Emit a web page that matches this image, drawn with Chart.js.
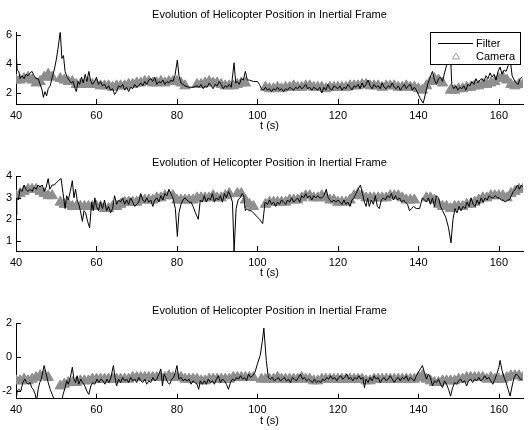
<!DOCTYPE html>
<html>
<head>
<meta charset="utf-8">
<script src="https://cdn.jsdelivr.net/npm/chart.js@4"></script>
<style>
html, body { margin: 0; padding: 0; background: #fff; }
#wrap { position: relative; width: 530px; height: 430px; overflow: hidden; }
.panel { position: absolute; left: 0; width: 530px; height: 136px; }
</style>
</head>
<body>
<div id="wrap">
  <div class="panel" style="top:0px"><canvas id="c1"></canvas></div>
  <div class="panel" style="top:147px"><canvas id="c2"></canvas></div>
  <div class="panel" style="top:294px"><canvas id="c3"></canvas></div>
</div>
<script>
const chartTitle = 'Evolution of Helicopter Position in Inertial Frame';
const xLabel = 't (s)';
const xTicks = [40, 60, 80, 100, 120, 140, 160];

// camera samples, one per second (null = no measurement)
const camT = [40, 41, 42, 43, 44, 45, 46, 47, 48, 49,
  50, 51, 52, 53, 54, 55, 56, 57, 58, 59,
  60, 61, 62, 63, 64, 65, 66, 67, 68, 69,
  70, 71, 72, 73, 74, 75, 76, 77, 78, 79,
  80, 81, 82, 83, 84, 85, 86, 87, 88, 89,
  90, 91, 92, 93, 94, 95, 96, 97, 98, 99,
  100, 101, 102, 103, 104, 105, 106, 107, 108, 109,
  110, 111, 112, 113, 114, 115, 116, 117, 118, 119,
  120, 121, 122, 123, 124, 125, 126, 127, 128, 129,
  130, 131, 132, 133, 134, 135, 136, 137, 138, 139,
  140, 141, 142, 143, 144, 145, 146, 147, 148, 149,
  150, 151, 152, 153, 154, 155, 156, 157, 158, 159,
  160, 161, 162, 163, 164, 165, 166];

const camY1 = [2.9, 2.9, 3.0, 3.1, 2.9, 2.7, 2.8, 3.1, 3.3, 3.1,
  null, 3.0, 2.9, 2.8, 2.8, 2.6, 2.6, 2.6, 2.7, 2.6,
  2.6, 2.5, 2.5, 2.5, 2.4, 2.5, 2.5, 2.5, 2.6, 2.6,
  2.7, 2.7, 2.8, 2.8, 2.7, 2.7, 2.8, 2.7, 2.8, 2.8,
  2.8, 2.7, 2.5, null, null, 2.6, 2.6, 2.7, 2.8, 2.7,
  2.7, 2.6, 2.5, 2.5, 2.5, 2.6, 2.7, 2.7, null, null,
  null, null, 2.4, 2.3, 2.3, 2.4, 2.3, 2.4, 2.4, 2.5,
  2.4, 2.4, 2.5, 2.5, 2.4, 2.4, 2.4, 2.3, 2.4, 2.4,
  2.4, 2.4, 2.4, 2.5, 2.5, 2.5, 2.6, 2.6, 2.5, 2.5,
  2.5, 2.4, 2.5, 2.5, 2.5, 2.4, 2.4, 2.5, 2.4, 2.4,
  2.3, 2.2, 2.5, 2.8, 3.0, 2.9, 2.7, null, 2.2, 2.2,
  2.3, 2.3, 2.4, 2.4, 2.5, 2.5, 2.6, 2.6, 2.7, 2.8,
  3.0, 3.1, 2.9, 2.6, 2.5, 2.6, 2.6];

const camY2 = [3.1, 3.2, 3.3, 3.4, 3.4, 3.4, 3.3, 3.2, 3.1, 3.1,
  null, 2.8, 2.7, 2.7, 2.6, 2.6, 2.6, 2.6, 2.6, 2.6,
  2.6, 2.6, 2.5, 2.5, 2.6, 2.6, 2.7, 2.8, 2.8, 2.8,
  2.8, 2.9, 2.9, 2.9, 2.9, 3.0, 3.0, 3.1, 3.1, 3.1,
  2.9, 2.9, 2.9, 2.9, 2.9, 3.0, 3.0, 3.0, 3.0, 3.1,
  3.0, 3.0, 3.1, 3.2, null, 3.2, 3.2, 2.9, 2.7, 2.6,
  null, null, 2.7, 2.8, 2.8, 2.8, 2.8, 2.8, 2.9, 2.9,
  2.9, 3.0, 3.1, 3.1, 3.0, 3.0, 3.1, 3.0, 2.9, 2.9,
  2.8, 2.8, 2.8, 2.9, 3.1, 3.2, 3.1, 3.0, 3.0, 3.0,
  3.0, 3.0, 3.0, 3.1, 3.1, 3.1, 3.0, 2.9, 2.9, 2.9,
  null, null, 3.0, 3.0, 2.9, 2.7, 2.6, 2.6, 2.5, 2.6,
  2.6, 2.6, 2.7, 2.7, 2.8, 2.9, 3.0, 3.0, 3.1, 3.1,
  3.1, 3.1, 3.0, 3.2, 3.3, 3.4, 3.4];

const camY3 = [-1.4, -1.4, -1.3, -1.4, -1.3, -1.2, -1.1, -1.1, -1.2, null,
  null, -1.7, -1.6, -1.5, -1.5, -1.5, -1.4, -1.4, -1.4, -1.3,
  -1.3, -1.3, -1.3, -1.3, -1.3, -1.3, -1.3, -1.3, -1.3, -1.2,
  -1.2, -1.2, -1.2, -1.2, -1.2, -1.2, -1.2, -1.2, -1.1, -1.2,
  -1.2, -1.2, -1.3, -1.3, -1.3, -1.3, -1.4, -1.4, -1.3, -1.3,
  -1.3, -1.3, -1.3, -1.3, -1.2, -1.2, -1.2, -1.2, -1.2, -1.2,
  null, -1.3, -1.3, -1.3, -1.3, -1.2, -1.3, -1.3, -1.3, -1.3,
  -1.3, -1.2, -1.3, -1.3, -1.4, -1.4, -1.3, -1.3, -1.3, -1.3,
  -1.3, -1.3, -1.3, -1.3, -1.3, -1.3, -1.3, -1.4, -1.4, -1.3,
  -1.3, -1.3, -1.3, -1.3, -1.3, -1.3, -1.3, -1.3, -1.3, -1.3,
  -1.2, -1.1, -1.3, -1.4, -1.5, -1.5, -1.4, -1.4, -1.4, -1.4,
  -1.3, -1.3, -1.2, -1.2, -1.2, -1.2, -1.2, -1.3, -1.2, -1.3,
  -1.3, -1.3, -1.2, -1.1, -1.1, -1.1, -1.2];

// filter estimate, [t, value]
const filter1 = [[40, 5.0], [40.3, 3.6], [40.7, 3.5], [41, 3.0], [41.5, 3.2], [42, 3.0], [42.5, 3.3], [43, 3.2], [43.5, 3.4], [44, 3.5],
  [44.5, 3.2], [45, 3.0], [45.5, 3.0], [46, 2.6], [46.5, 2.2], [46.8, 1.7], [47.2, 2.1], [47.6, 1.8], [48, 2.3], [48.5, 2.5],
  [49, 3.1], [49.5, 3.6], [50, 4.3], [50.5, 5.2], [51, 6.3], [51.4, 4.4], [51.8, 4.6], [52.2, 3.5], [52.7, 3.1], [53.2, 2.9],
  [53.7, 2.7], [54.2, 2.8], [54.7, 2.3], [55, 2.1], [55.4, 2.8], [55.8, 2.6], [56.3, 3.1], [56.7, 2.7], [57.2, 3.3], [57.6, 2.8],
  [58.1, 3.5], [58.5, 2.9], [59, 2.6], [59.5, 2.8], [60, 3.1], [60.5, 2.6], [61, 2.8], [61.5, 2.5], [62, 2.6], [62.5, 2.3],
  [63, 2.5], [63.5, 2.2], [64, 2.3], [64.5, 1.9], [65, 2.1], [65.5, 2.5], [66, 2.4], [66.5, 2.6], [67, 2.2], [67.5, 2.4],
  [68, 2.1], [68.5, 2.4], [69, 2.3], [69.5, 2.6], [70, 2.4], [70.5, 2.5], [71, 2.7], [71.5, 2.5], [72, 2.8], [72.5, 2.6],
  [73, 2.9], [73.5, 3.0], [74, 2.8], [74.5, 3.1], [75, 2.6], [75.5, 2.8], [76, 2.7], [76.5, 2.9], [77, 2.6], [77.5, 2.8],
  [78, 2.7], [78.5, 2.9], [79, 2.8], [79.5, 3.2], [80.1, 4.3], [80.5, 3.2], [81, 2.7], [81.5, 2.6], [82, 2.5], [83, 2.4],
  [84, 2.4], [85, 2.5], [85.5, 2.4], [86, 2.6], [86.5, 2.3], [87, 2.5], [87.5, 2.4], [88, 2.7], [88.5, 2.5], [89, 2.3],
  [89.5, 2.6], [90, 2.5], [90.5, 2.8], [91, 2.6], [91.5, 2.3], [92, 2.5], [92.5, 2.4], [93, 2.6], [93.5, 2.4], [94.2, 4.1],
  [94.6, 2.7], [95, 2.8], [95.5, 2.6], [96, 3.0], [96.5, 2.9], [97, 3.5], [97.5, 2.9], [98, 2.9], [99, 2.8], [100, 2.8],
  [100.5, 2.6], [101, 2.3], [101.5, 2.2], [102, 2.4], [102.5, 2.2], [103, 2.3], [103.5, 2.1], [104, 2.3], [104.5, 2.2], [105, 2.4],
  [105.5, 2.2], [106, 2.3], [106.5, 2.1], [107, 2.3], [107.5, 2.2], [108, 2.4], [108.5, 2.3], [109, 2.2], [109.5, 2.4], [110, 2.3],
  [110.5, 2.5], [111, 2.3], [111.5, 2.4], [112, 2.6], [112.5, 2.3], [113, 2.4], [113.5, 2.2], [114, 2.4], [114.5, 2.3], [115, 2.2],
  [115.5, 2.4], [116, 2.0], [116.5, 2.4], [117, 2.2], [117.5, 2.6], [118, 2.3], [118.5, 2.2], [119, 2.5], [119.5, 2.4], [120, 2.3],
  [120.5, 2.5], [121, 2.2], [121.5, 2.4], [122, 2.3], [122.5, 2.6], [123, 2.4], [123.5, 2.2], [124, 2.5], [124.5, 2.4], [125, 2.6],
  [125.5, 2.3], [126, 2.7], [126.5, 2.4], [127, 2.6], [127.5, 2.9], [128, 2.5], [128.5, 2.3], [129, 2.6], [129.5, 2.4], [130, 2.5],
  [130.5, 2.3], [131, 2.7], [131.5, 2.4], [132, 2.3], [132.5, 2.5], [133, 2.4], [133.5, 2.7], [134, 2.4], [134.5, 2.3], [135, 2.5],
  [135.5, 2.2], [136, 2.4], [136.5, 2.6], [137, 2.3], [137.5, 2.5], [138, 2.6], [138.5, 2.2], [139, 2.4], [139.5, 2.2], [140, 1.9],
  [140.5, 1.6], [141.2, 1.3], [141.8, 2.0], [142.3, 2.6], [142.8, 3.0], [143.5, 3.5], [144, 2.9], [144.5, 2.6], [145, 3.0], [145.5, 3.1],
  [146, 2.8], [146.5, 3.4], [147, 3.9], [147.5, 4.6], [147.9, 5.2], [148.3, 2.6], [148.8, 2.3], [149.3, 2.5], [149.8, 2.2], [150.3, 2.4],
  [150.8, 2.3], [151.3, 2.5], [151.8, 2.2], [152.3, 2.6], [152.8, 2.5], [153.3, 2.8], [153.8, 2.6], [154.3, 3.0], [154.8, 2.7], [155.3, 2.9],
  [155.8, 3.0], [156.3, 2.8], [156.8, 3.2], [157.3, 3.0], [157.8, 3.4], [158.3, 3.1], [158.8, 3.3], [159.3, 2.9], [159.8, 3.5], [160.3, 3.8],
  [160.8, 3.3], [161.3, 3.6], [161.8, 3.5], [162.3, 3.9], [162.8, 4.4], [163.3, 3.2], [163.8, 2.9], [164.3, 2.7], [164.8, 2.6], [165.3, 3.0],
  [165.8, 3.1]];

const filter2 = [[40, 2.2], [40.2, 3.0], [40.6, 2.9], [41, 3.4], [41.5, 3.3], [42, 3.6], [42.5, 3.4], [43, 3.3], [43.5, 3.4], [44, 3.3],
  [44.5, 3.5], [45, 3.4], [45.5, 3.6], [46, 3.5], [46.5, 3.6], [47, 3.3], [47.5, 3.5], [48, 3.9], [48.4, 3.4], [49, 3.6],
  [49.5, 3.6], [50, 3.7], [50.5, 3.8], [51.2, 3.9], [51.7, 3.2], [52.2, 2.5], [52.6, 3.1], [53, 2.9], [53.5, 3.3], [54, 3.8],
  [54.4, 3.0], [54.8, 3.4], [55.2, 2.9], [55.6, 2.7], [56, 2.4], [56.5, 1.9], [56.9, 2.4], [57.3, 2.3], [57.8, 1.9], [58.3, 1.6],
  [58.8, 2.8], [59.2, 2.4], [59.6, 3.0], [60, 2.6], [60.5, 2.4], [61, 2.8], [61.5, 2.5], [62, 2.9], [62.5, 2.4], [63, 2.6],
  [63.5, 2.3], [64, 2.5], [64.5, 3.1], [65, 2.7], [65.5, 2.9], [66, 2.8], [66.5, 3.0], [67, 2.7], [67.5, 2.9], [68, 2.7],
  [68.5, 3.0], [69, 2.8], [69.5, 2.6], [70, 2.7], [70.5, 2.8], [71, 3.2], [71.5, 2.9], [72, 2.8], [72.5, 3.0], [73, 2.8],
  [73.5, 2.9], [74, 2.6], [74.5, 2.9], [75, 3.0], [75.5, 2.8], [76, 3.1], [76.5, 2.9], [77, 3.2], [77.5, 3.1], [78, 3.4],
  [78.5, 3.2], [79, 3.0], [79.6, 2.5], [80.1, 1.2], [80.5, 2.3], [81, 2.7], [81.5, 2.9], [82, 3.0], [82.5, 2.9], [83, 2.8],
  [83.5, 2.8], [84, 2.6], [84.6, 2.3], [85.3, 2.0], [85.8, 2.9], [86.3, 2.8], [86.8, 3.1], [87.3, 2.8], [87.8, 3.0], [88.3, 2.9],
  [88.8, 3.2], [89.3, 2.8], [89.8, 3.0], [90.3, 2.9], [90.8, 3.1], [91.3, 2.8], [91.8, 3.2], [92.3, 3.0], [92.8, 3.3], [93.3, 3.1],
  [93.8, 2.8], [94.2, 0.5], [94.7, 2.5], [95.2, 2.9], [95.7, 3.0], [96.2, 3.2], [96.6, 3.1], [97, 2.4], [97.4, 2.5], [97.9, 2.4],
  [98.5, 2.4], [99.5, 2.2], [100.5, 2.0], [101.3, 1.8], [101.9, 2.8], [102.5, 2.7], [103, 2.9], [103.5, 2.7], [104, 2.8], [104.5, 2.6],
  [105, 2.8], [105.5, 2.7], [106, 2.9], [106.5, 2.8], [107, 2.7], [107.5, 2.9], [108, 2.8], [108.5, 3.0], [109, 2.8], [109.5, 2.9],
  [110, 3.0], [110.5, 2.8], [111, 3.1], [111.5, 3.0], [112, 3.2], [112.5, 3.0], [113, 3.1], [113.5, 2.9], [114, 3.1], [114.5, 3.0],
  [115, 3.1], [115.5, 3.0], [116, 3.0], [116.5, 3.1], [117.1, 3.4], [117.6, 3.0], [118, 2.9], [118.5, 2.8], [119, 2.9], [119.5, 2.8],
  [120, 2.9], [120.5, 2.8], [121, 2.7], [121.5, 2.9], [122, 2.7], [122.5, 2.8], [123, 2.6], [123.5, 2.9], [124, 3.0], [124.5, 3.2],
  [125, 3.4], [125.6, 3.6], [126.1, 3.2], [126.6, 2.8], [127, 2.6], [127.4, 3.0], [127.8, 2.6], [128.3, 2.9], [128.8, 2.7], [129.3, 3.1],
  [129.8, 2.6], [130.3, 2.5], [130.8, 2.9], [131.3, 3.0], [131.8, 2.9], [132.3, 3.1], [132.8, 3.0], [133.3, 3.2], [133.8, 2.9], [134.3, 3.1],
  [134.8, 2.9], [135.3, 3.0], [135.8, 2.8], [136.3, 2.9], [136.8, 2.8], [137.3, 2.7], [137.8, 2.4], [138.3, 2.5], [138.8, 2.6], [139.5, 2.5],
  [140.3, 2.5], [141, 3.0], [141.5, 2.9], [142, 2.8], [142.5, 3.0], [143, 2.7], [143.5, 3.0], [144, 2.6], [144.5, 3.1], [145, 3.0],
  [145.5, 2.6], [146, 2.4], [146.8, 2.1], [147.5, 1.6], [148.1, 0.9], [148.6, 2.0], [149.1, 2.5], [149.6, 2.3], [150.1, 2.6], [150.6, 2.4],
  [151.1, 2.6], [151.6, 2.5], [152.1, 2.8], [152.6, 2.6], [153.1, 3.0], [153.6, 2.7], [154.1, 2.6], [154.6, 2.9], [155.1, 2.7], [155.6, 3.0],
  [156.1, 2.8], [156.6, 3.0], [157.1, 2.9], [157.6, 3.1], [158.1, 3.0], [158.6, 3.0], [159.1, 3.1], [159.6, 3.0], [160.1, 3.0], [160.6, 2.9],
  [161.1, 2.9], [161.6, 2.8], [162.1, 2.9], [162.6, 2.9], [163.1, 3.1], [163.6, 3.3], [164.1, 3.4], [164.6, 3.6], [165.1, 3.4], [165.6, 3.6],
  [165.9, 3.5]];

const filter3 = [[40, -2.6], [40.3, -2.0], [40.7, -1.9], [41.2, -2.0], [41.7, -1.5], [42.2, -1.3], [42.6, -1.5], [43, -1.6], [43.5, -1.5], [43.9, -1.8],
  [44.3, -1.9], [44.8, -2.2], [45.1, -2.6], [45.5, -1.9], [45.9, -1.5], [46.3, -1.3], [46.7, -0.8], [47, -0.5], [47.5, -1.0], [48, -1.5],
  [48.5, -1.9], [49, -2.2], [49.6, -2.6], [50.5, -3.2], [51.2, -2.8], [51.7, -2.2], [52.2, -1.8], [52.6, -1.4], [53, -1.6], [53.5, -1.2],
  [54, -0.6], [54.4, -1.3], [54.8, -1.5], [55.2, -1.1], [55.6, -1.6], [56.1, -1.3], [56.6, -1.5], [57.1, -1.7], [57.6, -2.0], [58.1, -2.2],
  [58.6, -1.7], [59.1, -1.5], [59.6, -1.6], [60.1, -1.3], [60.6, -1.5], [61.1, -1.3], [61.6, -1.4], [62.1, -1.6], [62.6, -1.3], [63.1, -1.5],
  [63.6, -1.2], [64.2, -0.5], [64.6, -1.2], [65, -1.7], [65.5, -1.3], [66, -1.5], [66.5, -1.2], [67, -1.4], [67.5, -1.3], [68, -1.5],
  [68.5, -1.2], [69, -1.4], [69.5, -1.3], [70, -1.5], [70.5, -1.2], [71, -1.4], [71.5, -1.5], [72, -1.3], [72.5, -1.6], [73, -1.4],
  [73.5, -1.5], [74, -1.2], [74.5, -1.4], [75, -1.3], [75.5, -1.0], [76, -0.7], [76.4, -1.7], [76.8, -1.0], [77.2, -1.2], [77.7, -1.5],
  [78.2, -1.6], [78.7, -1.3], [79.2, -1.2], [79.6, -0.9], [80, -0.5], [80.5, -1.3], [81, -1.2], [81.5, -1.4], [82, -1.3], [82.5, -1.4],
  [83, -1.3], [83.5, -1.6], [84, -1.4], [84.5, -1.5], [85, -1.6], [85.4, -1.9], [85.8, -1.4], [86.3, -1.6], [86.8, -1.4], [87.3, -1.6],
  [87.8, -1.3], [88.3, -1.5], [88.8, -1.4], [89.3, -1.6], [89.8, -1.3], [90.3, -1.1], [90.8, -1.5], [91.3, -1.3], [91.8, -1.4], [92.3, -1.6],
  [92.8, -1.9], [93.3, -1.5], [93.8, -1.3], [94.3, -1.4], [94.8, -1.2], [95.3, -1.3], [95.8, -1.1], [96.3, -1.3], [96.8, -1.2], [97.3, -1.4],
  [97.8, -1.0], [98.3, -1.2], [98.8, -1.1], [99.4, -0.9], [100, -0.4], [100.7, 0.1], [101.2, 0.9], [101.6, 1.7], [102.2, -0.2], [102.7, -1.2],
  [103.2, -1.3], [103.7, -1.2], [104.2, -1.4], [104.7, -1.3], [105.2, -1.2], [105.7, -1.4], [106.2, -1.3], [106.7, -1.2], [107.2, -1.4], [107.7, -1.3],
  [108.2, -1.5], [108.7, -1.2], [109.2, -1.3], [109.7, -1.4], [110.2, -1.2], [110.7, -1.0], [111.2, -1.3], [111.7, -1.2], [112.2, -1.4], [112.7, -1.3],
  [113.2, -1.4], [113.7, -1.5], [114.2, -1.3], [114.7, -1.5], [115.2, -1.4], [115.7, -1.5], [116.2, -1.3], [116.7, -1.4], [117.2, -1.2], [117.7, -1.3],
  [118.2, -1.1], [118.7, -1.3], [119.2, -1.2], [119.7, -1.4], [120.2, -1.2], [120.7, -1.1], [121.2, -1.3], [121.7, -1.2], [122.2, -1.0], [122.7, -1.3],
  [123.2, -1.2], [123.7, -1.4], [124.2, -1.2], [124.7, -1.3], [125.2, -1.1], [125.7, -1.3], [126.2, -1.2], [126.6, -1.8], [127, -1.3], [127.5, -1.5],
  [128, -1.2], [128.5, -1.4], [129, -1.1], [129.5, -1.3], [130, -1.2], [130.5, -1.5], [131, -1.3], [131.5, -1.2], [132, -1.4], [132.5, -1.3],
  [133, -1.1], [133.5, -1.3], [134, -1.5], [134.5, -1.3], [135, -1.2], [135.5, -1.4], [136, -1.2], [136.5, -1.3], [137, -1.1], [137.5, -1.4],
  [138, -1.2], [138.5, -1.3], [139, -1.4], [139.5, -1.1], [140, -0.9], [140.5, -0.7], [141, -0.5], [141.5, -0.9], [142, -1.3], [142.5, -1.0],
  [143, -1.2], [143.5, -1.7], [144, -1.4], [144.5, -1.5], [145, -1.3], [145.5, -1.6], [146, -1.8], [146.5, -1.4], [147, -1.6], [147.5, -1.9],
  [148, -2.3], [148.5, -1.8], [149, -1.5], [149.5, -1.6], [150, -1.4], [150.5, -1.3], [151, -1.5], [151.5, -1.4], [152, -1.7], [152.5, -1.4],
  [153, -1.3], [153.5, -1.5], [154, -1.3], [154.5, -1.4], [155, -1.2], [155.5, -1.4], [156, -1.3], [156.5, -1.1], [157, -1.3], [157.5, -1.2],
  [158, -1.4], [158.5, -1.6], [159, -1.3], [159.5, -1.0], [160, -0.6], [160.3, -0.2], [160.8, -0.8], [161.3, -1.2], [161.8, -1.5], [162.3, -1.9],
  [162.8, -2.3], [163.3, -1.7], [163.8, -1.2], [164.3, -1.0], [164.8, -1.1], [165.3, -1.3], [165.8, -1.3]];

const yTicks1 = [2, 4, 6];
const yTicks2 = [1, 2, 3, 4];
const yTicks3 = [-2, 0, 2];

const FONT = { family: '"Liberation Sans", Arial, Helvetica, sans-serif', size: 11 };
const CAM_GRAY = '#8e8e8e';

// MATLAB style tick marks pointing into the plot
const inwardTicks = {
  id: 'inwardTicks',
  afterDatasetsDraw(chart) {
    const { ctx, chartArea, scales } = chart;
    ctx.save();
    ctx.strokeStyle = '#000';
    ctx.lineWidth = 1;
    ctx.beginPath();
    scales.x.ticks.forEach(t => {
      const px = Math.round(scales.x.getPixelForValue(t.value)) + 0.5;
      ctx.moveTo(px, chartArea.bottom);
      ctx.lineTo(px, chartArea.bottom - 5);
    });
    scales.y.ticks.forEach(t => {
      const py = Math.round(scales.y.getPixelForValue(t.value)) + 0.5;
      ctx.moveTo(chartArea.left, py);
      ctx.lineTo(chartArea.left + 5, py);
    });
    ctx.stroke();
    ctx.restore();
  }
};

// boxed legend inside the top right corner
const boxLegend = {
  id: 'boxLegend',
  afterDraw(chart) {
    if (!chart.options.plugins.boxLegend.show) return;
    const { ctx } = chart;
    const ds = chart.data.datasets;
    const x0 = 430.5, y0 = 32.5, w = 90, h = 32;
    ctx.save();
    ctx.fillStyle = '#fff';
    ctx.fillRect(x0, y0, w, h);
    ctx.strokeStyle = '#000';
    ctx.lineWidth = 1;
    ctx.strokeRect(x0, y0, w, h);
    ctx.beginPath();
    ctx.moveTo(438, 43.5);
    ctx.lineTo(473, 43.5);
    ctx.strokeStyle = ds[0].borderColor;
    ctx.stroke();
    ctx.beginPath();
    ctx.moveTo(456, 53);
    ctx.lineTo(459.5, 59);
    ctx.lineTo(452.5, 59);
    ctx.closePath();
    ctx.strokeStyle = '#a0a0a0';
    ctx.stroke();
    ctx.fillStyle = '#000';
    ctx.font = FONT.size + 'px ' + FONT.family;
    ctx.textBaseline = 'middle';
    ctx.fillText(ds[0].label, 476, 43.5);
    ctx.fillText(ds[1].label, 476, 56.5);
    ctx.restore();
  }
};

function makePanel(id, filter, camY, yMin, yMax, yTicks, titlePad, xHeight, xTitleBottom, showLegend) {
  new Chart(document.getElementById(id), {
    type: 'scatter',
    data: {
      datasets: [
        {
          label: 'Filter',
          data: filter.map(p => ({ x: p[0], y: p[1] })),
          showLine: true,
          borderColor: '#000',
          borderWidth: 1,
          pointRadius: 0,
          tension: 0
        },
        {
          label: 'Camera',
          data: camT.map((t, i) => ({ x: t, y: camY[i] })),
          showLine: false,
          pointStyle: 'triangle',
          pointRadius: 6,
          pointBorderWidth: 1,
          borderColor: CAM_GRAY,
          backgroundColor: CAM_GRAY
        }
      ]
    },
    options: {
      responsive: true,
      maintainAspectRatio: false,
      animation: false,
      devicePixelRatio: 1,
      layout: { padding: { left: 0, right: 4, top: 0, bottom: 0 } },
      plugins: {
        legend: { display: false },
        tooltip: { enabled: false },
        title: {
          display: true,
          text: chartTitle,
          color: '#000',
          font: { family: FONT.family, size: FONT.size, weight: 'normal' },
          padding: titlePad,
          fullSize: false
        },
        boxLegend: { show: showLegend }
      },
      scales: {
        x: {
          type: 'linear',
          min: 40,
          max: 166,
          afterBuildTicks: s => { s.ticks = xTicks.map(v => ({ value: v })); },
          afterFit: s => { s.height = xHeight; },
          grid: { display: false, drawTicks: false },
          border: { display: true, color: '#000', width: 1 },
          ticks: { color: '#000', font: FONT, padding: 5, maxRotation: 0 },
          title: { display: true, text: xLabel, color: '#000', font: FONT, padding: { top: 0, bottom: xTitleBottom } }
        },
        y: {
          type: 'linear',
          min: yMin,
          max: yMax,
          afterBuildTicks: s => { s.ticks = yTicks.map(v => ({ value: v })); },
          afterFit: s => { s.width = 16; },
          grid: { display: false, drawTicks: false },
          border: { display: true, color: '#000', width: 1 },
          ticks: { color: '#000', font: FONT, padding: 4 }
        }
      }
    },
    plugins: [inwardTicks, boxLegend]
  });
}

makePanel('c1', filter1, camY1, 1.24, 6.2, yTicks1, { top: 8.4, bottom: 10.9 }, 32, 3.4, true);
makePanel('c2', filter2, camY2, 0.52, 4.02, yTicks2, { top: 9.4, bottom: 6.4 }, 32, 3.4, false);
makePanel('c3', filter3, camY3, -2.45, 2, yTicks3, { top: 10.4, bottom: 5.4 }, 31.3, 2.4, false);
</script>
</body>
</html>
